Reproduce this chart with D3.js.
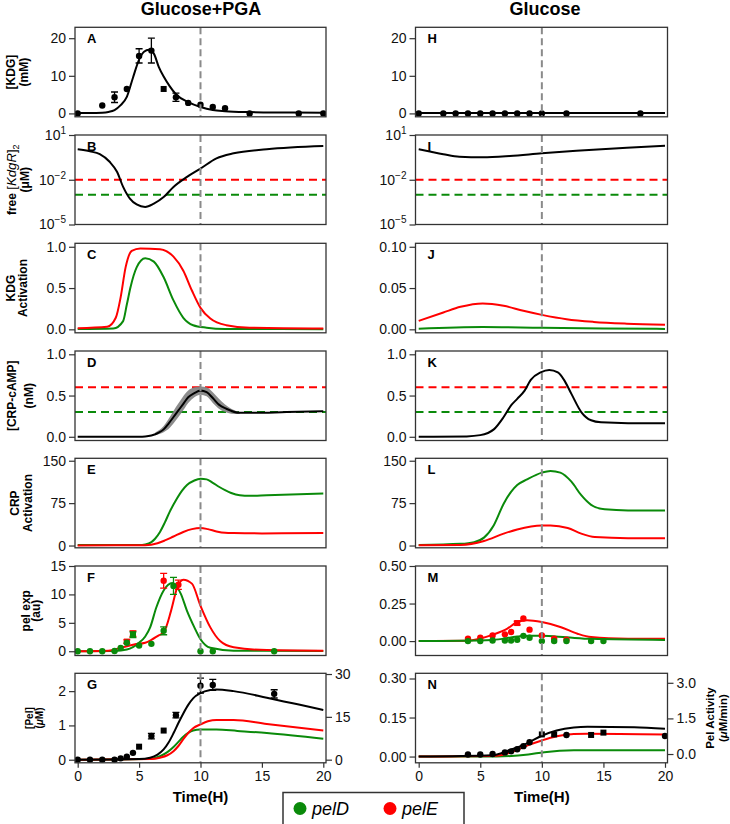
<!DOCTYPE html>
<html><head><meta charset="utf-8">
<script src="https://cdn.jsdelivr.net/npm/d3@7"></script>
<style>body{margin:0;background:#fff}</style>
</head><body><svg id="c" width="730" height="824" xmlns="http://www.w3.org/2000/svg"></svg>
<script>
// ---------------- DATA ----------------
const timeTicks = [0, 5, 10, 15, 20];
const columnTitles = ["Glucose+PGA", "Glucose"];
const legendItems = ["pelD", "pelE"];

// Glucose+PGA column
const kdgModelPGA = [[0,0.1],[1,0.1],[2,0.2],[2.5,0.4],[3,0.9],[3.5,2.2],[4,4.4],[4.5,9.5],[5,14.3],[5.4,16.4],[5.8,16.9],[6.2,15.9],[6.6,12.4],[7,9.8],[7.5,7.2],[8,5.1],[9,3.0],[10,1.7],[11,0.9],[12,0.6],[14,0.35],[16,0.25],[20,0.2]];
const kdgObsPGA = [[0,0,0,'c'],[2,2.1,0,'c'],[3,4.3,1.4,'c'],[4,6.5,0,'c'],[5,15.3,1.9,'c'],[6,16.7,3.3,'c'],[7,6.5,0,'s'],[8,4.3,1.1,'c'],[9,2.8,0,'c'],[10,2.3,0,'c'],[11,1.7,0,'c'],[12,1.4,0,'c'],[14,0,0,'c'],[18,0,0,'c'],[20,0,0,'c']];
const kdgrPGA = [[0,1.1],[1,0.8],[1.8,0.52],[2.6,0.16],[3.2,0.034],[3.7,0.0033],[4.25,0.00054],[4.8,0.00022],[5.5,0.00015],[6.2,0.00025],[7,0.00069],[7.8,0.0033],[8.9,0.0155],[10,0.056],[11.3,0.27],[12.7,0.59],[15.4,1.1],[20,1.8]];
const kdgrThreshPelE = 0.01, kdgrThreshPelD = 0.001;
const kdgActPelE_PGA = [[0,0.012],[2.4,0.03],[3.1,0.14],[3.5,0.39],[3.9,0.75],[4.4,0.95],[5.1,0.98],[6.7,0.97],[7.8,0.88],[8.6,0.71],[9.3,0.47],[10,0.26],[10.8,0.13],[12.1,0.05],[14,0.02],[20,0.01]];
const kdgActPelD_PGA = [[0,0.003],[2.9,0.01],[3.7,0.1],[4.0,0.3],[4.3,0.51],[4.8,0.75],[5.5,0.86],[6.2,0.82],[7,0.63],[7.8,0.35],[8.6,0.14],[9.4,0.05],[10.5,0.02],[12,0.005],[20,0.002]];
const crpPGA = [[0,0],[5,0],[5.5,0.003],[6,0.015],[6.6,0.05],[7,0.09],[7.4,0.16],[7.8,0.24],[8.2,0.32],[8.6,0.4],[9,0.48],[9.5,0.53],[10,0.56],[10.5,0.54],[11,0.47],[11.5,0.39],[12.1,0.34],[13.2,0.29],[14.3,0.29],[17,0.3],[20,0.31]];
const crpBandPGA = [[6.3,0.02,0.05],[7,0.055,0.13],[7.5,0.11,0.24],[8,0.2,0.36],[8.5,0.3,0.47],[9,0.41,0.56],[9.5,0.48,0.6],[10,0.51,0.61],[10.5,0.49,0.6],[11,0.41,0.54],[11.5,0.34,0.46],[12,0.3,0.39],[12.5,0.28,0.34],[13.2,0.275,0.3]];
const crpThreshPelE = 0.6, crpThreshPelD = 0.3;
const crpActPelD_PGA = [[0,1],[5,1],[5.5,2],[6,6],[6.3,12],[6.7,24],[7.1,41],[7.5,60],[8,80],[8.5,97],[8.9,107],[9.5,115],[10,118],[10.5,117],[11,111],[11.5,104],[12,98],[12.5,93],[13.2,89],[14,88],[15.4,89],[20,92]];
const crpActPelE_PGA = [[0,0.2],[5.5,0.5],[6.5,4],[7.1,9],[7.8,16],[8.6,24],[9.3,29],[10,31],[10.6,29],[11.3,25],[12,22.5],[12.7,22],[15,21.5],[20,22]];
const pelExpD_PGA = [[0,0],[3,0.05],[4,0.3],[5,1.5],[5.5,2.6],[5.9,4.2],[6.4,7.7],[7,10.7],[7.7,12.0],[8.4,10.1],[8.9,7.1],[9.5,4.2],[10,2.1],[10.8,0.6],[12.7,0.1],[20,0.05]];
const pelExpE_PGA = [[0,0],[2.5,0.1],[3.5,0.6],[4.6,1.2],[5.5,1.5],[6,2.0],[6.6,2.8],[7,3.3],[7.6,7.1],[8.1,11.2],[8.6,12.6],[9.3,11.9],[10,8.0],[10.8,4.2],[11.6,1.8],[12.7,0.7],[15.4,0.2],[20,0.1]];
const pelExpObsD_PGA = [[0,0,0,'c'],[1,0,0,'c'],[2,0,0,'c'],[3,0.05,0,'c'],[3.5,0.6,0,'c'],[4,1.5,0,'c'],[4.5,2.9,0.5,'s'],[5,1.0,0,'c'],[6,1.3,0,'c'],[7,3.6,0.7,'c'],[7.8,11.5,1.5,'c'],[10,0,0,'c'],[11,0,0,'c'],[16,0,0,'c']];
const pelExpObsE_PGA = [[4,1.7,0.3,'s'],[4.5,3.1,0.5,'s'],[7,12.4,1.3,'c'],[8.2,11.7,0.8,'c']];
const pelTotPGA = [[0,0],[5,0.02],[5.9,0.06],[6.5,0.15],[7,0.3],[7.4,0.5],[7.8,0.77],[8.2,1.07],[8.6,1.35],[9,1.6],[9.4,1.79],[10,1.94],[10.8,2.03],[11.3,2.05],[12.7,2.0],[15.4,1.81],[18.1,1.6],[20,1.45]];
const pelE_PGA = [[0,0],[6,0.02],[6.7,0.06],[7.3,0.13],[7.8,0.25],[8.2,0.4],[8.6,0.6],[9,0.78],[9.4,0.92],[10,1.03],[10.6,1.12],[11.3,1.16],[12.7,1.16],[15.4,1.04],[20,0.85]];
const pelD_PGA = [[0,0],[6,0.03],[6.7,0.1],[7.3,0.22],[7.8,0.37],[8.2,0.52],[8.6,0.67],[9,0.78],[9.4,0.85],[10,0.88],[11.3,0.88],[13,0.84],[15.4,0.78],[20,0.61]];
const pelObsPGA = [[0,0,0,'c'],[1,0,0,'c'],[2,0,0,'c'],[3,0,0,'c'],[3.5,0.04,0,'c'],[4,0.09,0,'c'],[4.5,0.2,0,'c'],[5,0.38,0,'s'],[6,0.69,0.08,'c'],[7,0.85,0,'s'],[8,1.3,0.08,'c'],[10,2.16,0.22,'c'],[11,2.18,0.16,'c'],[16,1.92,0.12,'c']];

// Glucose column
const kdgModelGlu = [[0,0.1],[20,0.1]];
const kdgObsGlu = [[0,0,0,'c'],[2,0,0,'c'],[3,0,0,'c'],[4,0,0,'c'],[5,0,0,'c'],[6,0,0,'c'],[7,0,0,'c'],[8,0,0,'c'],[9,0,0,'c'],[10,0,0,'c'],[12,0,0,'c'],[18,0,0,'c']];
const kdgrGlu = [[0,1.1],[1,0.75],[2,0.52],[3.3,0.35],[5.2,0.32],[7.4,0.39],[10,0.59],[12.8,0.87],[16.9,1.4],[20,1.9]];
const kdgActPelE_Glu = [[0,0.0102],[2,0.0204],[3.4,0.0273],[5.2,0.0314],[6.9,0.0285],[8.5,0.0224],[10,0.0175],[12,0.0122],[14.2,0.009],[16.9,0.0069],[20,0.0056]];
const kdgActPelD_Glu = [[0,0.0008],[5.2,0.0028],[10,0.0018],[15,0.001],[20,0.0005]];
const crpGlu = [[0,0],[3.9,0.005],[5,0.02],[6.1,0.09],[6.9,0.24],[7.5,0.38],[8,0.46],[8.6,0.56],[9.1,0.69],[9.9,0.78],[10.6,0.81],[11.3,0.78],[11.8,0.69],[12.4,0.52],[13.2,0.3],[14,0.2],[14.8,0.175],[17,0.165],[20,0.165]];
const crpActPelD_Glu = [[0,1],[3.4,3],[4.5,6],[5.3,14],[6.1,36],[6.9,74],[7.5,95],[8,107],[8.8,117],[10,129],[10.7,132],[11.5,129],[12.4,113],[13.2,89],[14,72],[15.1,64],[17,62],[20,62]];
const crpActPelE_Glu = [[0,0.3],[3.4,1],[5.3,8],[6.9,21],[8,28.5],[10,35.6],[10.7,35.6],[12.1,31],[13.2,21],[14.3,15],[17,13],[20,13]];
const pelExpE_Glu = [[0,0],[3.9,0.003],[6.1,0.045],[7.2,0.083],[8,0.127],[8.8,0.139],[10,0.127],[11.5,0.094],[12.9,0.049],[14,0.027],[17,0.016],[20,0.015]];
const pelExpD_Glu = [[0,0],[6,0.008],[8,0.03],[9,0.036],[10,0.035],[12,0.025],[14,0.015],[20,0.008]];
const pelExpObsE_Glu = [[4,0.016,0,'c'],[5,0.023,0,'c'],[6,0.038,0,'c'],[7,0.045,0,'c'],[7.5,0.06,0,'c'],[8,0.12,0.012,'s'],[8.5,0.15,0,'c'],[9,0.076,0,'c'],[10,0.038,0,'c'],[11,0.016,0,'c'],[12,0.01,0,'c']];
const pelExpObsD_Glu = [[4,0,0,'c'],[5,0,0,'c'],[6,0.004,0,'c'],[7,0.004,0,'c'],[7.5,0.004,0,'c'],[8,0.009,0,'c'],[8.5,0.035,0,'c'],[9,0.022,0,'c'],[10,0,0,'c'],[11,0,0,'c'],[12,0,0,'c'],[14,0,0,'c'],[15,0,0,'c']];
const pelTotGlu = [[0,0],[6,0.005],[7.4,0.025],[8.8,0.051],[10,0.08],[11.2,0.1],[12.6,0.112],[13.7,0.115],[17.5,0.113],[20,0.107]];
const pelE_Glu = [[0,0],[6.3,0.003],[7.6,0.018],[8.9,0.044],[10,0.062],[11.2,0.078],[12.6,0.087],[13.7,0.088],[20,0.085]];
const pelD_Glu = [[0,0],[6.3,0.0005],[8.9,0.008],[10.2,0.017],[12.6,0.024],[20,0.024]];
const pelObsGlu = [[4,0.008,0,'c'],[5,0.008,0,'c'],[6,0.01,0,'c'],[7,0.016,0,'c'],[7.5,0.02,0,'c'],[8,0.028,0,'c'],[8.5,0.04,0,'c'],[9,0.055,0,'c'],[10,0.085,0,'s'],[11,0.085,0,'s'],[12,0.083,0,'c'],[14,0.083,0,'s'],[15,0.092,0,'s'],[20,0.079,0,'c']];

// ---------------- DRAWING ----------------
const FONT = '"Liberation Sans", Arial, Helvetica, sans-serif';
const GREEN = '#0a8a0a', RED = '#ff0000', GREY = '#8a8a8a', AX = '#333', BLACK = '#000';
const svg = d3.select('#c').attr('font-family', FONT);
const cols = [{f0:75, f1:326, r0:77.7, r1:323.3}, {f0:415.5, f1:667.5, r0:418.7, r1:665}];
const rowTop = [27.3, 135, 243.3, 351, 458.3, 566, 673.3], PH = 89.5;
let clipN = 0;

function panel(c, r, dom, log) {
  const col = cols[c], top = rowTop[r], bot = top + PH;
  const x = d3.scaleLinear().domain([0, 20]).range([col.r0, col.r1]);
  const y = (log ? d3.scaleLog() : d3.scaleLinear()).domain(dom).range([bot, top]);
  const id = 'clip' + (clipN++);
  svg.append('clipPath').attr('id', id).append('rect')
    .attr('x', col.f0).attr('y', top).attr('width', col.f1 - col.f0).attr('height', PH);
  const g = svg.append('g');
  const plot = g.append('g').attr('clip-path', `url(#${id})`);
  return {x, y, g, plot, top, bot, l: col.f0, r: col.f1};
}
function curve(p, data, color, yS) {
  const ys = yS || p.y;
  p.plot.append('path').datum(data).attr('fill', 'none').attr('stroke', color)
    .attr('stroke-width', 2).attr('stroke-linejoin', 'round')
    .attr('d', d3.line().x(d => p.x(d[0])).y(d => ys(d[1])).curve(d3.curveMonotoneX));
}
function band(p, data) {
  p.plot.append('path').datum(data).attr('fill', '#7f7f7f').attr('opacity', 0.9)
    .attr('d', d3.area().x(d => p.x(d[0])).y0(d => p.y(d[1])).y1(d => p.y(d[2])).curve(d3.curveMonotoneX));
}
function hdash(p, v, color) {
  p.plot.append('line').attr('x1', p.l).attr('x2', p.r).attr('y1', p.y(v)).attr('y2', p.y(v))
    .attr('stroke', color).attr('stroke-width', 2).attr('stroke-dasharray', '8,5');
}
function vdash(p) {
  const xv = p.x(10);
  p.plot.append('line').attr('x1', xv).attr('x2', xv).attr('y1', p.top).attr('y2', p.bot)
    .attr('stroke', GREY).attr('stroke-width', 2).attr('stroke-dasharray', '7,4');
}
function points(p, data, color) {
  const g = p.plot.append('g');
  data.forEach(d => {
    const [t, v, e, s] = d, cx = p.x(t), cy = p.y(v);
    if (e) {
      const y1 = p.y(v - e), y2 = p.y(v + e);
      g.append('line').attr('x1', cx).attr('x2', cx).attr('y1', y1).attr('y2', y2).attr('stroke', color).attr('stroke-width', 1.3);
      [y1, y2].forEach(yy => g.append('line').attr('x1', cx - 3.5).attr('x2', cx + 3.5).attr('y1', yy).attr('y2', yy).attr('stroke', color).attr('stroke-width', 1.3));
    }
    if (s === 's') g.append('rect').attr('x', cx - 3).attr('y', cy - 3).attr('width', 6).attr('height', 6).attr('fill', color);
    else g.append('circle').attr('cx', cx).attr('cy', cy).attr('r', 3.2).attr('fill', color);
  });
}
function frame(p) {
  p.g.append('rect').attr('x', p.l).attr('y', p.top).attr('width', p.r - p.l).attr('height', PH)
    .attr('fill', 'none').attr('stroke', AX).attr('stroke-width', 1.3);
}
function styleAxis(g) {
  g.attr('font-family', FONT).attr('font-size', 14);
  g.select('.domain').remove();
  g.selectAll('line').attr('stroke', AX).attr('stroke-width', 1.2);
  g.selectAll('text').attr('fill', '#111');
}
function yAxis(p, ticks, fmt, scale, right) {
  const s = scale || p.y;
  const ax = (right ? d3.axisRight(s) : d3.axisLeft(s)).tickValues(ticks).tickSize(6).tickPadding(3).tickFormat(fmt);
  const g = p.g.append('g').attr('transform', `translate(${right ? p.r : p.l},0)`).call(ax);
  styleAxis(g);
  return g;
}
function logAxis(p) {
  const g = yAxis(p, [1e-5, 1e-2, 10], () => '');
  g.selectAll('.tick text').each(function(d) {
    const e = Math.round(Math.log10(d));
    const t = d3.select(this);
    t.append('tspan').text('10');
    t.append('tspan').attr('dy', '-0.6em').attr('font-size', 10).text(e < 0 ? '\u2212' + (-e) : String(e));
  });
}
function xAxis(p) {
  const g = p.g.append('g').attr('transform', `translate(0,${p.bot})`)
    .call(d3.axisBottom(p.x).tickValues(timeTicks).tickSize(5).tickPadding(3).tickFormat(d3.format('d')));
  styleAxis(g);
  svg.append('text').attr('x', (p.x(0) + p.x(20)) / 2).attr('y', 802).attr('text-anchor', 'middle')
    .attr('font-weight', 'bold').attr('font-size', 15).text('Time(H)');
}
function letter(p, s) {
  p.g.append('text').attr('x', p.l + 12).attr('y', p.top + 15.5).attr('font-weight', 'bold').attr('font-size', 13).text(s);
}
// lines: array of arrays of segments [text, style]
function ylab(p, lines, xs, fs, cy) {
  const c = cy || (p.top + PH / 2);
  lines.forEach((segs, i) => {
    const t = svg.append('text').attr('transform', `translate(${xs[i]},${c}) rotate(-90)`)
      .attr('text-anchor', 'middle').attr('font-size', fs).attr('font-weight', 'bold');
    segs.forEach(sg => {
      const ts = t.append('tspan').text(sg[0]);
      const st = sg[1] || '';
      if (st.includes('i')) ts.attr('font-style', 'italic');
      if (st.includes('n')) ts.attr('font-weight', 'normal');
      if (st.includes('b')) ts.attr('font-size', fs * 1.1);
      if (st.includes('sub')) ts.attr('dy', '0.3em').attr('font-size', fs * 0.75);
    });
  });
}

// Titles
svg.append('text').attr('x', 201).attr('y', 15).attr('text-anchor', 'middle').attr('font-weight', 'bold').attr('font-size', 18).text(columnTitles[0]);
svg.append('text').attr('x', 545).attr('y', 15).attr('text-anchor', 'middle').attr('font-weight', 'bold').attr('font-size', 18).text(columnTitles[1]);

const f1 = d3.format('.1f'), f2 = d3.format('.2f'), fd = d3.format('d');

// ---- Row 0: KDG ----
let p = panel(0, 0, [-0.9, 22.9]);
curve(p, kdgModelPGA, BLACK); points(p, kdgObsPGA, BLACK); vdash(p); frame(p);
yAxis(p, [0, 10, 20], fd); letter(p, 'A');
ylab(p, [[['[KDG]']], [['(mM)']]], [15, 28], 12);

p = panel(1, 0, [-0.9, 22.9]);
curve(p, kdgModelGlu, BLACK); points(p, kdgObsGlu, BLACK); vdash(p); frame(p);
yAxis(p, [0, 10, 20], fd); letter(p, 'H');

// ---- Row 1: free KdgR ----
p = panel(0, 1, [1e-5, 10], true);
hdash(p, kdgrThreshPelE, RED); hdash(p, kdgrThreshPelD, GREEN);
curve(p, kdgrPGA, BLACK); vdash(p); frame(p); logAxis(p); letter(p, 'B');
ylab(p, [[['free '], ['[', 'nb'], ['KdgR', 'inb'], [']', 'nb'], ['2', 'nsub']], [['(\u03bcM)']]], [16, 29], 12);

p = panel(1, 1, [1e-5, 10], true);
hdash(p, kdgrThreshPelE, RED); hdash(p, kdgrThreshPelD, GREEN);
curve(p, kdgrGlu, BLACK); vdash(p); frame(p); logAxis(p); letter(p, 'I');

// ---- Row 2: KDG activation ----
p = panel(0, 2, [-0.042, 1.042]);
curve(p, kdgActPelD_PGA, GREEN); curve(p, kdgActPelE_PGA, RED); vdash(p); frame(p);
yAxis(p, [0, 0.5, 1], f1); letter(p, 'C');
ylab(p, [[['KDG']], [['Activation']]], [15, 27], 12);

p = panel(1, 2, [-0.0042, 0.1042]);
curve(p, kdgActPelD_Glu, GREEN); curve(p, kdgActPelE_Glu, RED); vdash(p); frame(p);
yAxis(p, [0, 0.05, 0.1], f2); letter(p, 'J');

// ---- Row 3: CRP-cAMP ----
p = panel(0, 3, [-0.045, 1.04]);
hdash(p, crpThreshPelE, RED); hdash(p, crpThreshPelD, GREEN);
band(p, crpBandPGA); curve(p, crpPGA, BLACK); vdash(p); frame(p);
yAxis(p, [0, 0.5, 1], f1); letter(p, 'D');
ylab(p, [[['[CRP-cAMP]']], [['(nM)']]], [16, 33], 12);

p = panel(1, 3, [-0.045, 1.04]);
hdash(p, crpThreshPelE, RED); hdash(p, crpThreshPelD, GREEN);
curve(p, crpGlu, BLACK); vdash(p); frame(p);
yAxis(p, [0, 0.5, 1], f1); letter(p, 'K');

// ---- Row 4: CRP activation ----
p = panel(0, 4, [-4, 154.3]);
curve(p, crpActPelD_PGA, GREEN); curve(p, crpActPelE_PGA, RED); vdash(p); frame(p);
yAxis(p, [0, 75, 150], fd); letter(p, 'E');
ylab(p, [[['CRP']], [['Activation']]], [19, 32], 12);

p = panel(1, 4, [-4, 154.3]);
curve(p, crpActPelD_Glu, GREEN); curve(p, crpActPelE_Glu, RED); vdash(p); frame(p);
yAxis(p, [0, 75, 150], fd); letter(p, 'L');

// ---- Row 5: pel expression ----
p = panel(0, 5, [-0.75, 15]);
curve(p, pelExpD_PGA, GREEN); curve(p, pelExpE_PGA, RED);
points(p, pelExpObsE_PGA, RED); points(p, pelExpObsD_PGA, GREEN); vdash(p); frame(p);
yAxis(p, [0, 5, 10, 15], fd); letter(p, 'F');
ylab(p, [[['pel exp']], [['(au)']]], [30, 40], 12);

p = panel(1, 5, [-0.096, 0.5]);
curve(p, pelExpE_Glu, RED); curve(p, pelExpD_Glu, GREEN);
points(p, pelExpObsE_Glu, RED); points(p, pelExpObsD_Glu, GREEN); vdash(p); frame(p);
yAxis(p, [0, 0.25, 0.5], f2); letter(p, 'M');

// ---- Row 6: Pel ----
p = panel(0, 6, [-0.09, 2.52]);
const gRight = d3.scaleLinear().domain([-1.09, 30.25]).range([p.bot, p.top]);
curve(p, pelD_PGA, GREEN); curve(p, pelE_PGA, RED); curve(p, pelTotPGA, BLACK);
points(p, pelObsPGA, BLACK); vdash(p); frame(p);
yAxis(p, [0, 1, 2], fd); yAxis(p, [0, 15, 30], fd, gRight, true); letter(p, 'G'); xAxis(p);
ylab(p, [[['[Pel]']], [['('], ['\u03bc', 'i'], ['M)']]], [33, 43], 10);

p = panel(1, 6, [-0.024, 0.32]);
const nRight = d3.scaleLinear().domain([-0.37, 3.4]).range([p.bot, p.top]);
curve(p, pelD_Glu, GREEN); curve(p, pelE_Glu, RED); curve(p, pelTotGlu, BLACK);
points(p, pelObsGlu, BLACK); vdash(p); frame(p);
yAxis(p, [0, 0.15, 0.3], f2); yAxis(p, [0, 1.5, 3], f1, nRight, true); letter(p, 'N'); xAxis(p);
ylab(p, [[['Pel Activity']], [['('], ['\u03bc', 'i'], ['M/min)']]], [714, 727], 11.5);

// ---- Legend ----
const lg = svg.append('g');
lg.append('rect').attr('x', 283).attr('y', 792.5).attr('width', 181).attr('height', 33)
  .attr('fill', '#fff').attr('stroke', '#333').attr('stroke-width', 1.5);
[[300, GREEN, legendItems[0]], [390, RED, legendItems[1]]].forEach(([cx, col, txt]) => {
  lg.append('circle').attr('cx', cx).attr('cy', 808.5).attr('r', 6.5).attr('fill', col);
  lg.append('text').attr('x', cx + 12).attr('y', 815).attr('font-size', 18).attr('font-style', 'italic').text(txt);
});
</script></body></html>
